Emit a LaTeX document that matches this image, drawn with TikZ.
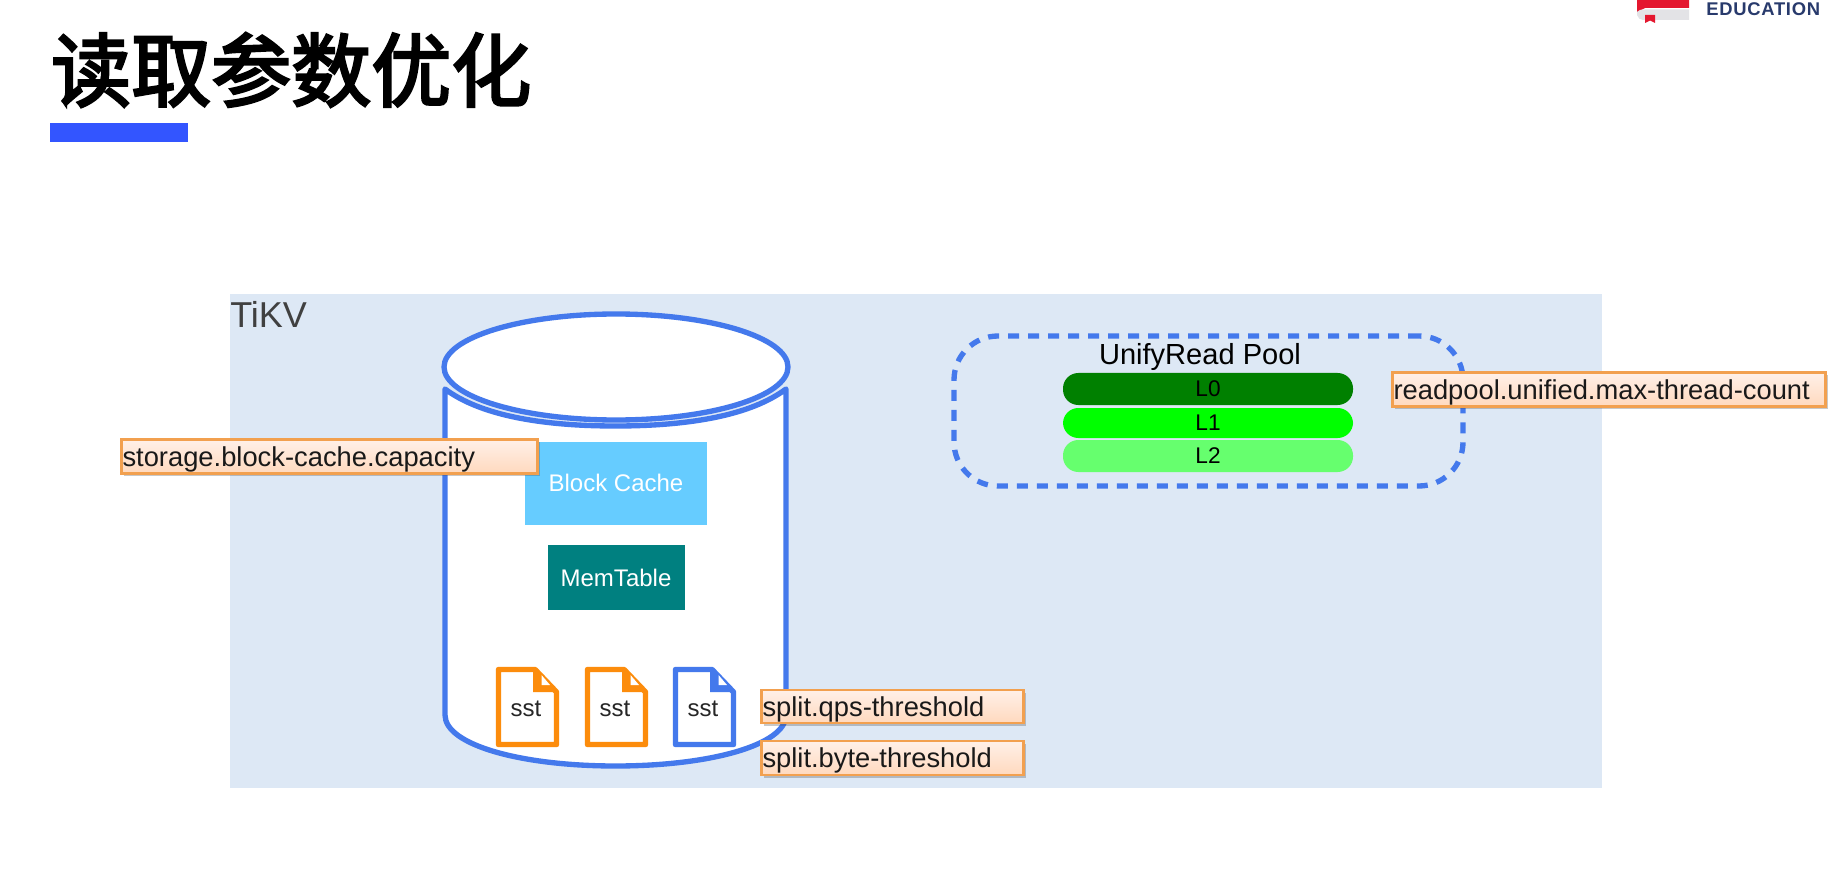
\documentclass[tikz,border=0pt]{standalone}
\usepackage{fontspec}
\setmainfont{Liberation Sans}
\newfontfamily\cjkb[FakeBold=3.2]{Noto Sans CJK SC}
\newfontfamily\edufont[LetterSpace=4]{Liberation Sans}
\usetikzlibrary{shadows,shapes.geometric}
\definecolor{panelbg}{HTML}{DDE8F5}
\definecolor{cylblue}{HTML}{4479EC}
\definecolor{docorange}{HTML}{FC8C0C}
\definecolor{labelborder}{HTML}{F2A04F}
\definecolor{labeltop}{HTML}{FFF0E8}
\definecolor{labelbot}{HTML}{FFD9BE}
\definecolor{barblue}{HTML}{3355FF}
\definecolor{cacheblue}{HTML}{66CCFF}
\definecolor{memteal}{HTML}{008080}
\definecolor{edunavy}{HTML}{283A6C}
\definecolor{logored}{HTML}{E4172F}
\definecolor{loggray}{HTML}{E3E3E6}
\newcommand{\sstdoc}[3]{%
  \draw[#3,line width=4.1pt,line join=round,fill=white]
    ({#1+2.5},669.5) -- ({#1+39},669.5) -- ({#1+60.5},692) -- ({#1+60.5},744.5) -- ({#1+2.5},744.5) -- cycle;
  \fill[#3] ({#1+37},669.5) -- ({#1+39},669.5) -- ({#1+60.5},692) -- ({#1+37},692) -- cycle;
  \fill[white] ({#1+45.5},675) -- ({#1+54},685) -- ({#1+45.5},685) -- cycle;
  \node[sstlabel] (#2) at ({#1+30},709) {sst};
}
\tikzset{
  wh/.style 2 args={minimum width=#1*0.75pt,minimum height=#2*0.75pt,inner sep=0pt,outer sep=0pt},
  param/.style={draw=labelborder,line width=1.8pt,top color=labeltop,bottom color=labelbot,
    drop shadow={shadow xshift=1.5pt,shadow yshift=-2pt,opacity=.3,fill=black!70},
    anchor=north west,inner sep=0pt,outer sep=0pt,text=black!90,align=left,
    font=\fontsize{20.5pt}{24pt}\selectfont,text height=18.8pt,text depth=4.5pt},
  sstlabel/.style={font=\fontsize{18pt}{20pt}\selectfont,text=black!85,inner sep=0pt},
  pill/.style={wh={290}{#1},rounded corners=11.5pt,font=\fontsize{17pt}{20pt}\selectfont,text=black},
}
\begin{document}
\begin{tikzpicture}[x=0.75pt,y=-0.75pt]
\useasboundingbox (0,0) rectangle (1841,873);
\fill[white] (0,0) rectangle (1841,873);
% logo
\fill[logored] (1637,0) -- (1689,0) -- (1689,8) -- (1645,8) -- (1637,12) -- cycle;
\fill[loggray] (1637,12) .. controls (1638,10) and (1641,9.5) .. (1645,9.5) -- (1689,9.5) -- (1689,20) -- (1643,20) .. controls (1640,20) and (1638,18) .. (1637,15) -- cycle;
\fill[logored] (1645,15) -- (1655,15) -- (1655,23) -- (1650,20.5) -- (1645,23) -- cycle;
\node[anchor=west,inner sep=0pt,text=edunavy,font=\fontsize{13.8pt}{15pt}\edufont\bfseries] (edu) at (1706,9) {EDUCATION};
% title
\node[anchor=west,inner sep=0pt,font=\fontsize{60pt}{66pt}\cjkb,text=black] (title) at (51,70) {读取参数优化};
\fill[barblue] (50,123) rectangle (188,142);
% panel
\node[wh={1372}{494},fill=panelbg,anchor=north west] (panel) at (230,294) {};
\node[anchor=west,inner sep=0pt,text=black!75,font=\fontsize{27pt}{30pt}\selectfont] (tikv) at (230,314) {TiKV};
% cylinder
\draw[cylblue,line width=4pt,fill=white,line join=round]
  (445,389) .. controls (480,415) and (540,426) .. (615.5,426)
  .. controls (691,426) and (751,415) .. (786,389)
  -- (786,715) .. controls (786,745) and (710,766) .. (615.5,766)
  .. controls (521,766) and (445,745) .. (445,715) -- cycle;
\node[ellipse,draw=cylblue,line width=4pt,fill=white,minimum width=344*0.75pt,minimum height=106*0.75pt,inner sep=0pt] (top) at (616,367) {};
% blocks
\node[wh={182}{83},fill=cacheblue,text=white,font=\fontsize{18pt}{20pt}\selectfont] (cache) at (616,483) {Block Cache};
\node[wh={137}{65},fill=memteal,text=white,font=\fontsize{18pt}{20pt}\selectfont] (mem) at (616,577.5) {MemTable};
% sst
\sstdoc{496}{sstA}{docorange}
\sstdoc{585}{sstB}{docorange}
\sstdoc{673}{sstC}{cylblue}
% pool
\node[wh={509}{150},draw=cylblue,line width=4pt,dash pattern=on 8.2pt off 6.8pt,rounded corners=33pt] (pool) at (1208.5,411) {};
\node[inner sep=0pt,font=\fontsize{21.8pt}{24pt}\selectfont,text=black] (poolname) at (1200,357) {UnifyRead Pool};
\node[pill=32,fill={rgb,255:red,0;green,128;blue,0}] (L0) at (1208,389) {\raisebox{-1pt}{L0}};
\node[pill=30,fill={rgb,255:red,0;green,255;blue,0}] (L1) at (1208,423) {\raisebox{-1pt}{L1}};
\node[pill=32,fill={rgb,255:red,102;green,255;blue,110}] (L2) at (1208,456) {\raisebox{-1pt}{L2}};
% labels
\node[param,minimum width=416*0.75pt,minimum height=34*0.75pt,text width=414*0.75pt] (cap) at (121.5,439.5) {storage.block-cache.capacity};
\node[param,minimum width=262*0.75pt,minimum height=33*0.75pt,text width=260*0.75pt] (qps) at (761.5,690) {split.qps-threshold};
\node[param,minimum width=262*0.75pt,minimum height=34*0.75pt,text width=260*0.75pt] (byte) at (761.5,741) {split.byte-threshold};
\node[param,minimum width=433*0.75pt,minimum height=34*0.75pt,text width=431*0.75pt] (rp) at (1392.5,372.5) {readpool.unified.max-thread-count};
\end{tikzpicture}
\end{document}
